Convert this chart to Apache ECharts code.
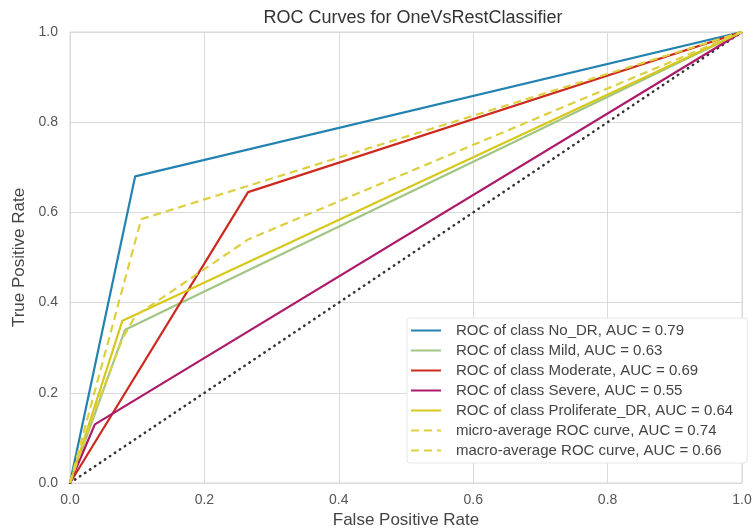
<!DOCTYPE html>
<html>
<head>
<meta charset="utf-8">
<script src="https://cdn.jsdelivr.net/npm/echarts@6/dist/echarts.min.js"></script>
<style>
  html, body { margin: 0; padding: 0; background: #fff; }
  #chart { width: 755px; height: 529px; }
</style>
</head>
<body>
<div id="chart"></div>
<script>
// ROC points: [fpr, tpr]
const noDr = [[0, 0], [0.097, 0.68], [1, 1]];
const mild = [[0, 0], [0.082, 0.34], [1, 1]];
const moderate = [[0, 0], [0.265, 0.645], [1, 1]];
const severe = [[0, 0], [0.037, 0.13], [1, 1]];
const proliferate = [[0, 0], [0.078, 0.36], [1, 1]];
const microAvg = [[0, 0], [0.106, 0.585], [1, 1]];
const macroAvg = [[0, 0], [0.037, 0.16], [0.078, 0.32], [0.097, 0.37], [0.265, 0.54], [1, 1]];
const chance = [[0, 0], [1, 1]];

const names = [
  'ROC of class No_DR, AUC = 0.79',
  'ROC of class Mild, AUC = 0.63',
  'ROC of class Moderate, AUC = 0.69',
  'ROC of class Severe, AUC = 0.55',
  'ROC of class Proliferate_DR, AUC = 0.64',
  'micro-average ROC curve, AUC = 0.74',
  'macro-average ROC curve, AUC = 0.66'
];
const curves = [noDr, mild, moderate, severe, proliferate, microAvg, macroAvg];
const colors = ['#2383b0', '#a0c584', '#cc2a1e', '#ad1a6a', '#d6c81a', '#ddd040', '#ddd040'];

const chart = echarts.init(document.getElementById('chart'));

const series = curves.map((d, i) => ({
  name: names[i],
  type: 'line',
  data: d,
  symbol: 'none',
  z: 3,
  lineStyle: { color: colors[i], width: 2.2, type: i >= 5 ? [8, 5] : 'solid' },
  itemStyle: { color: colors[i] }
}));
series.push({
  type: 'line',
  data: chance,
  symbol: 'none',
  z: 2,
  lineStyle: { color: '#333', width: 2.5, type: [0.5, 5.5], cap: 'round' }
});

const axisCommon = {
  type: 'value',
  min: 0,
  max: 1,
  interval: 0.2,
  axisLine: { show: false },
  axisTick: { show: false },
  splitLine: { lineStyle: { color: '#dadada', width: 1 } },
  axisLabel: { color: '#555', fontSize: 14, fontFamily: 'Liberation Sans', formatter: v => v.toFixed(1) },
  nameLocation: 'middle',
  nameTextStyle: { color: '#444', fontSize: 17, fontFamily: 'Liberation Sans' }
};

chart.setOption({
  animation: false,
  backgroundColor: '#fff',
  title: {
    text: 'ROC Curves for OneVsRestClassifier',
    left: 408,
    textAlign: 'center',
    top: 4,
    textStyle: { color: '#333', fontSize: 18, fontWeight: 'normal', fontFamily: 'Liberation Sans' }
  },
  grid: {
    left: 70, right: 13, top: 32, bottom: 46,
    outerBoundsMode: 'none',
    show: true, borderColor: '#d6d6d6', borderWidth: 1
  },
  xAxis: Object.assign({}, axisCommon, {
    name: 'False Positive Rate', nameGap: 26,
    axisLabel: Object.assign({}, axisCommon.axisLabel, { margin: 10 })
  }),
  yAxis: Object.assign({}, axisCommon, {
    name: 'True Positive Rate', nameGap: 36,
    axisLabel: Object.assign({}, axisCommon.axisLabel, { margin: 12 })
  }),
  legend: {
    data: names,
    orient: 'vertical',
    left: 407,
    top: 318,
    padding: [5, 14, 5, 3],
    itemWidth: 30,
    itemHeight: 17,
    itemGap: 5,
    itemStyle: { opacity: 0 },
    backgroundColor: '#fff',
    borderColor: '#e6e6e6',
    borderWidth: 1,
    borderRadius: 3,
    textStyle: { color: '#444', fontSize: 15, fontFamily: 'Liberation Sans', padding: [0, 0, 0, 10] }
  },
  series: series
});
</script>
</body>
</html>
